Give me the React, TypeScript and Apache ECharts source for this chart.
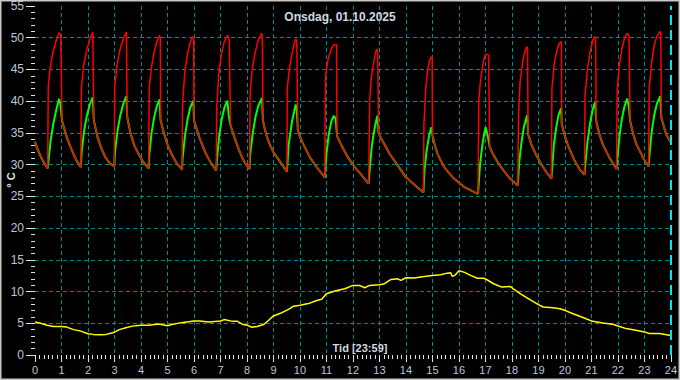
import React, { useEffect, useRef } from "react";
import * as echarts from "echarts";

// Title / labels
const chartTitle = "Onsdag, 01.10.2025";
const timeLabel = "Tid [23:59]";
const unitLabel = "° C";

// Decay segments of both circuits (shared), [hour, °C]; each ends at the start of the next heating cycle
const decaySegments: number[][][] = [
  [[0, 33.6], [0.1, 32.4], [0.2, 31.4], [0.3, 30.6], [0.4, 29.9], [0.48, 29.4]],
  [[1.2, 34.3], [1.32, 33.0], [1.45, 31.7], [1.57, 30.6], [1.73, 29.6]],
  [[2.35, 34.5], [2.5, 32.6], [2.65, 31.2], [2.82, 30.2], [2.99, 29.7]],
  [[3.6, 35.0], [3.75, 33.0], [3.92, 31.6], [4.1, 30.3], [4.29, 29.4]],
  [[4.85, 35.2], [5.0, 33.2], [5.15, 31.7], [5.35, 30.2], [5.55, 29.2]],
  [[6.1, 35.6], [6.2, 34.3], [6.45, 31.7], [6.65, 30.2], [6.84, 29.1]],
  [[7.47, 35.0], [7.57, 33.8], [7.7, 32.3], [7.82, 31.1], [7.95, 30.1], [8.1, 29.3]],
  [[8.68, 35.5], [8.76, 34.3], [8.88, 33.0], [9.01, 31.9], [9.26, 30.4], [9.51, 28.9]],
  [[10.0, 34.4], [10.13, 33.2], [10.38, 31.1], [10.63, 29.6], [10.94, 28.0]],
  [[11.57, 33.0], [11.82, 31.1], [12.07, 29.6], [12.32, 28.4], [12.59, 27.0]],
  [[13.05, 34.2], [13.19, 33.2], [13.37, 31.8], [13.57, 30.6], [14.0, 28.0], [14.44, 26.4], [14.66, 25.6]],
  [[15.08, 33.2], [15.19, 31.7], [15.44, 29.6], [15.81, 27.8], [16.19, 26.5], [16.72, 25.4]],
  [[17.28, 31.7], [17.43, 30.6], [17.68, 29.1], [17.93, 27.8], [18.22, 26.7]],
  [[18.75, 33.0], [18.93, 31.4], [19.12, 30.0], [19.3, 28.8], [19.49, 27.8]],
  [[20.0, 34.5], [20.12, 33.0], [20.37, 30.6], [20.55, 29.3], [20.74, 28.4]],
  [[21.3, 34.8], [21.43, 33.2], [21.68, 31.1], [21.95, 29.3]],
  [[22.58, 34.8], [22.7, 33.2], [22.95, 31.1], [23.16, 29.7]],
  [[23.82, 34.8], [24.0, 33.5]],
];

// Heating phase of the supply (red) line, ending at the drop
const supplyRises: number[][][] = [
  [[0.5, 42.3], [0.57, 45.2], [0.67, 47.6], [0.79, 49.4], [0.91, 50.8], [0.97, 50.4], [1.02, 36.9]],
  [[1.75, 42.0], [1.83, 45.5], [1.95, 48.0], [2.07, 49.8], [2.18, 50.9], [2.22, 37.0]],
  [[3.01, 42.5], [3.1, 45.8], [3.2, 48.0], [3.33, 49.8], [3.45, 50.9], [3.48, 37.5]],
  [[4.31, 42.0], [4.4, 45.5], [4.5, 47.8], [4.6, 49.4], [4.7, 50.4], [4.73, 50.0], [4.74, 37.0]],
  [[5.57, 39.5], [5.65, 44.5], [5.75, 47.3], [5.85, 49.2], [5.95, 50.2], [5.99, 49.8], [6.0, 37.0]],
  [[6.86, 39.0], [6.93, 44.0], [7.03, 47.3], [7.14, 49.3], [7.26, 50.4], [7.33, 49.8], [7.38, 36.2]],
  [[8.12, 41.5], [8.2, 45.0], [8.3, 47.5], [8.42, 49.5], [8.55, 50.7], [8.58, 50.3], [8.6, 37.0]],
  [[9.52, 42.0], [9.6, 45.0], [9.7, 47.5], [9.78, 49.0], [9.84, 49.8], [9.88, 49.5], [9.92, 35.5]],
  [[10.95, 36.4], [10.97, 44.2], [11.07, 46.8], [11.19, 48.3], [11.28, 48.9], [11.38, 48.9], [11.4, 34.5]],
  [[12.61, 31.7], [12.63, 40.0], [12.69, 43.6], [12.79, 46.3], [12.88, 48.1], [12.93, 48.2], [12.97, 35.0]],
  [[14.68, 36.4], [14.75, 42.1], [14.83, 45.2], [14.9, 46.5], [14.96, 47.0], [14.99, 46.8], [15.0, 34.6]],
  [[16.75, 40.0], [16.81, 43.1], [16.9, 45.7], [16.97, 47.0], [17.03, 47.4], [17.12, 47.3], [17.16, 32.8]],
  [[18.25, 37.9], [18.31, 43.1], [18.41, 46.3], [18.49, 47.8], [18.56, 48.6], [18.59, 48.4], [18.61, 34.8]],
  [[19.51, 42.0], [19.6, 46.0], [19.7, 48.0], [19.78, 49.0], [19.84, 49.4], [19.87, 49.2], [19.88, 36.4]],
  [[20.76, 41.0], [20.85, 45.0], [20.95, 47.8], [21.05, 49.5], [21.12, 50.2], [21.16, 50.0], [21.18, 36.9]],
  [[21.97, 41.5], [22.05, 45.5], [22.15, 48.3], [22.25, 49.9], [22.34, 50.7], [22.42, 50.2], [22.46, 36.9]],
  [[23.18, 42.0], [23.27, 46.0], [23.37, 48.8], [23.48, 50.3], [23.59, 51.0], [23.62, 50.6], [23.64, 37.4]],
];

// Heating phase of the return (green) line, ending at the drop
const returnRises: number[][][] = [
  [[0.59, 33.8], [0.69, 36.4], [0.79, 38.4], [0.91, 40.4], [0.96, 39.5], [1.02, 36.9]],
  [[1.76, 32.0], [1.86, 35.5], [1.96, 37.8], [2.07, 39.5], [2.18, 40.6], [2.22, 37.0]],
  [[3.02, 32.0], [3.12, 35.5], [3.22, 37.8], [3.34, 39.7], [3.45, 40.8], [3.48, 37.5]],
  [[4.31, 31.5], [4.4, 35.0], [4.5, 37.5], [4.6, 39.2], [4.7, 40.3], [4.74, 37.0]],
  [[5.57, 31.0], [5.66, 34.5], [5.76, 37.2], [5.86, 39.0], [5.98, 40.1], [6.0, 37.0]],
  [[6.87, 31.0], [6.95, 34.5], [7.05, 37.2], [7.15, 39.0], [7.26, 40.1], [7.32, 37.5], [7.38, 36.2]],
  [[8.12, 31.5], [8.22, 35.0], [8.32, 37.5], [8.43, 39.3], [8.57, 40.5], [8.6, 37.0]],
  [[9.57, 33.0], [9.7, 36.8], [9.84, 39.5], [9.88, 38.5], [9.92, 35.5]],
  [[11.0, 31.7], [11.09, 34.8], [11.19, 36.9], [11.28, 37.7], [11.35, 37.2], [11.4, 34.5]],
  [[12.65, 30.1], [12.72, 33.2], [12.82, 35.8], [12.92, 37.7], [12.97, 35.0]],
  [[14.7, 29.1], [14.78, 32.2], [14.87, 34.5], [14.96, 35.9], [15.0, 34.6]],
  [[16.79, 29.6], [16.87, 32.7], [16.96, 35.0], [17.01, 35.9], [17.09, 34.5], [17.16, 32.8]],
  [[18.28, 30.6], [18.37, 33.8], [18.46, 36.1], [18.58, 37.8], [18.61, 34.8]],
  [[19.53, 30.0], [19.58, 33.0], [19.67, 35.8], [19.76, 37.8], [19.86, 38.9], [19.88, 36.4]],
  [[20.77, 30.0], [20.85, 33.5], [20.95, 36.5], [21.05, 38.7], [21.14, 39.9], [21.18, 36.9]],
  [[21.98, 31.0], [22.06, 34.5], [22.15, 37.2], [22.25, 39.2], [22.35, 40.4], [22.42, 39.0], [22.46, 36.9]],
  [[23.19, 31.5], [23.27, 35.0], [23.37, 37.8], [23.48, 39.7], [23.6, 40.8], [23.64, 37.4]],
];

// Outdoor temperature (yellow), [hour, °C]
const outdoorTemp: number[][] = [
  [0, 5.2], [0.21, 5.0], [0.46, 4.7], [0.71, 4.5], [1.0, 4.5], [1.2, 4.4], [1.45, 4.0], [1.7, 3.8],
  [2.0, 3.35], [2.19, 3.25], [2.44, 3.2], [2.69, 3.25], [3.0, 3.6], [3.18, 4.0], [3.43, 4.3], [3.68, 4.55],
  [4.0, 4.7], [4.29, 4.7], [4.67, 4.9], [5.0, 4.6], [5.16, 4.8], [5.53, 5.1], [6.0, 5.35], [6.2, 5.37],
  [6.57, 5.2], [7.0, 5.37], [7.14, 5.58], [7.45, 5.3], [7.64, 5.3], [7.82, 4.85], [8.0, 4.7], [8.19, 4.37],
  [8.38, 4.5], [8.63, 4.8], [8.82, 5.47], [8.98, 6.1], [9.26, 6.57], [9.57, 7.2], [9.76, 7.7], [10.01, 7.83],
  [10.32, 8.1], [10.63, 8.6], [10.82, 8.77], [11.0, 9.66], [11.32, 10.08], [11.69, 10.45], [12.0, 10.97],
  [12.25, 10.97], [12.44, 10.6], [12.63, 10.97], [13.0, 11.07], [13.19, 11.23], [13.44, 11.9], [13.69, 12.0],
  [13.81, 11.75], [14.0, 12.17], [14.31, 12.12], [14.69, 12.38], [15.0, 12.54], [15.31, 12.64], [15.56, 12.9],
  [15.69, 12.95], [15.75, 12.38], [15.87, 12.64], [16.0, 13.27], [16.19, 13.06], [16.44, 12.54], [16.69, 12.1],
  [16.94, 12.1], [17.06, 11.86], [17.31, 11.23], [17.62, 10.7], [17.93, 10.8], [18.0, 10.6], [18.31, 9.66],
  [18.68, 8.72], [19.0, 7.93], [19.18, 7.57], [19.56, 7.46], [19.81, 7.3], [20.0, 7.04], [20.31, 6.5],
  [20.68, 5.9], [21.0, 5.37], [21.43, 5.05], [21.81, 4.84], [22.0, 4.58], [22.31, 4.16], [22.68, 3.9],
  [23.0, 3.64], [23.18, 3.38], [23.56, 3.38], [24.0, 3.06],
];

function buildSeries(rises: number[][][]): number[][] {
  const out: number[][] = [];
  for (let i = 0; i < decaySegments.length; i++) {
    out.push(...decaySegments[i]);
    if (i < rises.length) out.push(...rises[i]);
  }
  return out;
}

const FONT = "'Liberation Sans', Arial, sans-serif";
const LABEL_COLOR = "#b8c8dc";
const TICK_COLOR = "#e0e0e0";
const GRID_COLOR = "#008b8b";

export default function App() {
  const ref = useRef<HTMLDivElement>(null);
  useEffect(() => {
    if (!ref.current) return;
    const chart = echarts.init(ref.current, null, { renderer: "svg" });
    chart.setOption({
      animation: false,
      backgroundColor: "#000000",
      textStyle: { fontFamily: FONT },
      grid: { left: 35, right: 5, top: 5, bottom: 25 },
      xAxis: {
        type: "value",
        min: 0,
        max: 24,
        interval: 1,
        axisLine: { show: false },
        axisTick: { show: true, length: 7, lineStyle: { color: TICK_COLOR, width: 1 } },
        minorTick: { show: true, splitNumber: 6, length: 4, lineStyle: { color: TICK_COLOR, width: 1 } },
        axisLabel: { color: LABEL_COLOR, fontSize: 11, margin: 9, fontFamily: FONT },
        splitLine: {
          show: true,
          showMinLine: false,
          showMaxLine: false,
          lineStyle: { color: GRID_COLOR, type: [4, 3], width: 1 },
        },
      },
      yAxis: {
        type: "value",
        min: 0,
        max: 55,
        interval: 5,
        axisLine: { show: false },
        axisTick: { show: true, length: 9, lineStyle: { color: TICK_COLOR, width: 1 } },
        minorTick: { show: true, splitNumber: 5, length: 4, lineStyle: { color: TICK_COLOR, width: 1 } },
        axisLabel: { color: LABEL_COLOR, fontSize: 12, margin: 11, fontFamily: FONT },
        splitLine: {
          show: true,
          showMinLine: false,
          showMaxLine: false,
          lineStyle: { color: GRID_COLOR, type: [4, 3], width: 1 },
        },
      },
      series: [
        {
          type: "line",
          name: "Ute",
          data: outdoorTemp,
          showSymbol: false,
          lineStyle: { color: "#ffff00", width: 1.5 },
          z: 2,
        },
        {
          type: "line",
          name: "Retur",
          data: buildSeries(returnRises),
          showSymbol: false,
          lineStyle: { color: "#00ff00", width: 2 },
          z: 3,
        },
        {
          type: "line",
          name: "Tur",
          data: buildSeries(supplyRises),
          showSymbol: false,
          lineStyle: { color: "#ff0000", width: 1.5 },
          z: 4,
          markLine: {
            silent: true,
            symbol: "none",
            label: { show: false },
            lineStyle: { color: "#00e5ee", type: [10, 5], width: 2 },
            data: [{ xAxis: 24 }],
          },
        },
      ],
      graphic: [
        {
          type: "text",
          left: "center",
          top: 11,
          style: {
            text: chartTitle,
            fill: "#d0d8e2",
            font: `bold 12px ${FONT}`,
          },
          z: 10,
        },
        {
          type: "text",
          x: 360,
          y: 348,
          style: {
            text: timeLabel,
            fill: "#d0d8e2",
            font: `bold 11px ${FONT}`,
            align: "center",
            verticalAlign: "middle",
          },
          z: 10,
        },
        {
          type: "text",
          x: 11,
          y: 180,
          rotation: Math.PI / 2,
          style: {
            text: unitLabel,
            fill: "#e8e8e8",
            font: `bold 11px ${FONT}`,
            align: "center",
            verticalAlign: "middle",
          },
          z: 10,
        },
        {
          type: "rect",
          shape: { x: 0.5, y: 0.5, width: 679, height: 379 },
          style: { fill: "none", stroke: "#c8c8c8", lineWidth: 2 },
          z: 20,
        },
      ],
    });
    return () => chart.dispose();
  }, []);
  return (
    <div
      ref={ref}
      style={{ position: "absolute", left: 0, top: 0, width: 680, height: 380, background: "#000" }}
    />
  );
}
